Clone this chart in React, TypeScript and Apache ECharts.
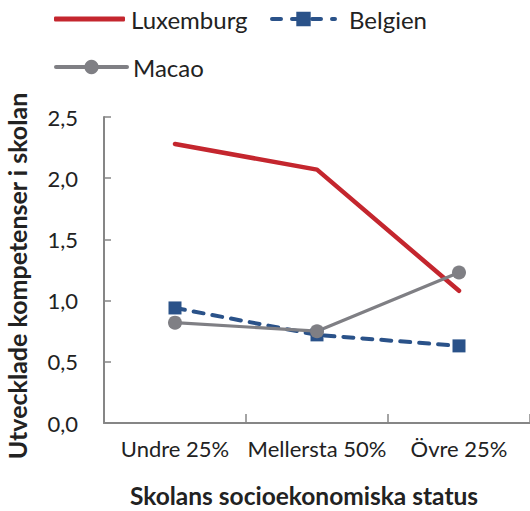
import React, { useEffect, useRef } from "react";
import * as echarts from "echarts";

const categories = ["Undre 25%", "Mellersta 50%", "Övre 25%"];
const luxemburg = [2.28, 2.07, 1.08];
const belgien = [0.94, 0.72, 0.63];
const macao = [0.82, 0.75, 1.23];
const yTicks = { min: 0, max: 2.5, interval: 0.5 };

const FONT = "Lato";
const RED = "#C4262E";
const BLUE = "#2A5289";
const GRAY = "#7F7F84";
const AXIS = "#868686";
const TEXT = "#222222";

export default function App() {
  const ref = useRef<HTMLDivElement>(null);
  useEffect(() => {
    if (!ref.current) return;
    const chart = echarts.init(ref.current, undefined, { renderer: "svg" });
    const legendText = { fontFamily: FONT, fontSize: 24, color: TEXT };
    chart.setOption({
      animation: false,
      backgroundColor: "#ffffff",
      textStyle: { fontFamily: FONT },
      grid: { left: 104, right: 0, top: 117, bottom: 88, outerBoundsMode: "none", containLabel: false },
      legend: [
        {
          data: [{ name: "Luxemburg", icon: "roundRect" }],
          left: 54,
          top: 7,
          padding: 0,
          itemWidth: 71,
          itemHeight: 5,
          itemStyle: { color: RED },
          textStyle: { ...legendText, padding: [0, 0, 0, 1] },
        },
        {
          data: ["Belgien"],
          left: 270,
          top: 7,
          padding: 0,
          itemWidth: 63,
          itemHeight: 18,
          lineStyle: { width: 4, type: [9, 11], cap: "round" },
          textStyle: { ...legendText, padding: [0, 0, 0, 9] },
        },
        {
          data: ["Macao"],
          left: 54,
          top: 55,
          padding: 0,
          itemWidth: 71,
          itemHeight: 18,
          lineStyle: { width: 4, cap: "round" },
          textStyle: { ...legendText, padding: [0, 0, 0, 1] },
        },
      ],
      xAxis: {
        type: "category",
        data: categories,
        boundaryGap: true,
        axisLine: { show: true, lineStyle: { color: AXIS, width: 2 } },
        axisTick: { show: true, inside: true, length: 9, alignWithLabel: false, lineStyle: { color: AXIS, width: 1.5 } },
        axisLabel: { fontFamily: FONT, fontSize: 22, color: TEXT, margin: 14, interval: 0 },
        splitLine: { show: false },
        name: "Skolans socioekonomiska status",
        nameLocation: "middle",
        nameGap: 60,
        nameTextStyle: { fontFamily: FONT, fontSize: 24.5, fontWeight: "bold", color: TEXT, padding: [0, 26, 0, 0] },
      },
      yAxis: {
        type: "value",
        min: yTicks.min,
        max: yTicks.max,
        interval: yTicks.interval,
        axisLine: { show: true, lineStyle: { color: AXIS, width: 2 } },
        axisTick: { show: true, inside: true, length: 7, lineStyle: { color: AXIS, width: 1.5 } },
        axisLabel: {
          fontFamily: FONT,
          fontSize: 22,
          color: TEXT,
          margin: 26,
          formatter: (v: number) => v.toFixed(1).replace(".", ","),
        },
        splitLine: { show: false },
        name: "Utvecklade kompetenser i skolan",
        nameLocation: "middle",
        nameGap: 75,
        nameTextStyle: { fontFamily: FONT, fontSize: 25, fontWeight: "bold", color: TEXT, padding: [0, 12, 0, 0] },
      },
      series: [
        {
          name: "Luxemburg",
          type: "line",
          data: luxemburg,
          symbol: "none",
          itemStyle: { color: RED },
          lineStyle: { color: RED, width: 4.5, cap: "round", join: "round" },
        },
        {
          name: "Belgien",
          type: "line",
          data: belgien,
          symbol: "rect",
          symbolSize: 13,
          itemStyle: { color: BLUE },
          lineStyle: { color: BLUE, width: 4, type: [10, 9], cap: "round" },
        },
        {
          name: "Macao",
          type: "line",
          data: macao,
          symbol: "circle",
          symbolSize: 14,
          itemStyle: { color: GRAY },
          lineStyle: { color: GRAY, width: 3.2 },
        },
      ],
    });
    return () => chart.dispose();
  }, []);
  return (
    <div
      ref={ref}
      style={{ position: "fixed", left: 0, top: 0, width: 530, height: 511 }}
    />
  );
}
